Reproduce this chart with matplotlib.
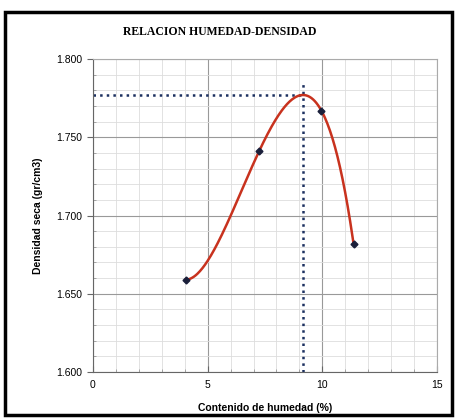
import numpy as np
import matplotlib.pyplot as plt
from matplotlib.patches import Rectangle
from matplotlib.ticker import MultipleLocator

plt.rcParams['font.family'] = ['Liberation Sans', 'DejaVu Sans']

# ensayo proctor
humedad = [4.04, 7.24, 9.96, 11.36]
densidad = [1.659, 1.741, 1.767, 1.682]
# optimo
w_opt = 9.17
d_max = 1.777
v_top = 1.785

fig = plt.figure(figsize=(4.56, 4.19), dpi=100)
fig.patch.set_facecolor('white')
fig.patches.append(Rectangle((5/456, 1-415/419), 447/456, 403/419,
                             transform=fig.transFigure, fill=False,
                             edgecolor='black', linewidth=2.5))

ax = fig.add_axes([93/456, 1-372/419, 344/456, 313/419])

# curva suave: pasa por los puntos y el optimo, tangente horizontal al inicio
cx = np.array(humedad[:2] + [w_opt] + humedad[2:])
cy = np.array(densidad[:2] + [d_max] + densidad[2:])
n = 6
A = np.array([cx ** k for k in range(n)]).T
d0 = np.array([k * cx[0] ** (k - 1) if k > 0 else 0 for k in range(n)])
M = np.vstack([A, d0])
b = np.append(cy, 0.0)
coef = np.linalg.solve(M, b)
xs = np.linspace(min(humedad), max(humedad), 200)
ys = sum(coef[k] * xs ** k for k in range(n))
ax.plot(xs, ys, color='#c8321e', linewidth=1.8, zorder=3)
ax.plot(humedad, densidad, 'D', color='#1a1f3a', markersize=3.5, zorder=4)

# lineas del optimo
ax.plot([0, w_opt], [d_max, d_max], ':', color='#1c3060', linewidth=1.8, zorder=2)
ax.plot([w_opt, w_opt], [1.600, v_top], ':', color='#1c3060', linewidth=1.8, zorder=2)

ax.set_xlim(0, 15)
ax.set_ylim(1.600, 1.800)
ax.xaxis.set_major_locator(MultipleLocator(5))
ax.xaxis.set_minor_locator(MultipleLocator(1))
ax.yaxis.set_major_locator(MultipleLocator(0.05))
ax.yaxis.set_minor_locator(MultipleLocator(0.01))
ax.set_yticklabels(['%.3f' % v for v in ax.get_yticks()])
ax.grid(which='major', color='#999999', linewidth=0.8)
ax.grid(which='minor', color='#dddddd', linewidth=0.6)
ax.set_axisbelow(True)
for s in ax.spines.values():
    s.set_color('#aaaaaa')
    s.set_linewidth(0.8)
ax.spines['left'].set_color('#666666')
ax.spines['bottom'].set_color('#666666')
ax.tick_params(which='major', labelsize=7.5, length=4, color='#666666')
ax.tick_params(which='minor', length=2, color='#999999', direction='in')
ax.tick_params(axis='x', which='major', direction='in', pad=6)

ax.set_xlabel('Contenido de humedad (%)', fontsize=7.5, fontweight='bold', labelpad=9)
ax.set_ylabel('Densidad seca (gr/cm3)', fontsize=7.5, fontweight='bold', labelpad=10)
fig.text(220/456, 1-32/419, 'RELACION HUMEDAD-DENSIDAD', ha='center', va='center',
         fontsize=8.5, fontweight='bold', family='Liberation Serif')

fig.savefig('out.png', dpi=100)
